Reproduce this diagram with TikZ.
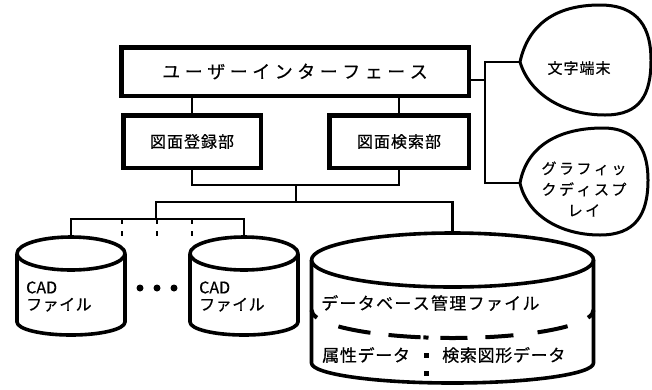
\documentclass[tikz,border=0pt]{standalone}
\usepackage{fontspec}
\setmainfont{Noto Sans CJK JP}[FakeBold=0.5]
\usetikzlibrary{calc}
\makeatletter
\def\spc#1#2{\def\spc@k{#1}\spc@first#2\relax}
\def\spc@first#1{#1\spc@aux}
\def\spc@aux#1{\ifx#1\relax\else\kern\spc@k#1\expandafter\spc@aux\fi}
\makeatother
\tikzset{
  box/.style={draw, line width=4.5pt, inner sep=0pt, outer sep=0pt},
  conn/.style={line width=2.6pt, line cap=rect},
  dashconn/.style={line width=2.6pt, dash pattern=on 5pt off 7pt},
  cyl/.style={line width=3.6pt, line join=round},
  bubble/.style={line width=3pt},
  dbdash/.style={line width=4pt},
  lbl/.style={inner sep=0pt}
}
\begin{document}
\begin{tikzpicture}[x=1pt,y=-1pt]
\useasboundingbox (0,0) rectangle (652,389);

% boxes
\node[box, minimum width=347.5pt, minimum height=48.5pt,
      font=\fontsize{18pt}{21pt}\selectfont] (ui) at (295,71.5) {\spc{4.5pt}{ユーザーインターフェース}};
\node[box, minimum width=137.5pt, minimum height=52.5pt,
      font=\fontsize{16pt}{19pt}\selectfont] (reg) at (192,141.5) {\spc{1pt}{図面登録部}};
\node[box, minimum width=139.5pt, minimum height=52.5pt,
      font=\fontsize{16pt}{19pt}\selectfont] (srch) at (399,141.5) {\spc{1pt}{図面検索部}};

\draw[conn] (ui.south -| reg.north) -- (reg.north);
\draw[conn] (ui.south -| srch.north) -- (srch.north);

% bubbles
\draw[bubble] (520,62) .. controls (528,25) and (555,5) .. (600,5)
  .. controls (640,5) and (651,30) .. (651,60)
  .. controls (651,95) and (640,115) .. (605,115)
  .. controls (565,115) and (530,95) .. (520,62) -- cycle;
\draw[bubble] (520,183) .. controls (527,145) and (560,128) .. (603,128)
  .. controls (640,128) and (648,155) .. (648,180)
  .. controls (648,215) and (635,235) .. (600,235)
  .. controls (560,235) and (527,215) .. (520,183) -- cycle;
\coordinate (termtip) at (520,62);
\coordinate (gfxtip) at (520,183);
\node[lbl, font=\fontsize{15pt}{18pt}\selectfont] (term) at (579,68) {\spc{1pt}{文字端末}};
\node[lbl, align=center, font=\fontsize{15pt}{21pt}\selectfont] (gfx) at (584,189)
  {\spc{2.5pt}{グラフィッ}\\\spc{2.5pt}{クディスプ}\\\spc{2.5pt}{レイ}};

\coordinate (rj) at (485,80);
\draw[conn] (ui.east |- rj) -- (rj);
\draw[conn] (termtip) -| (rj) |- (gfxtip);

% CAD cylinders
\draw[cyl] (17,253.5) -- (17,322) arc[start angle=180, end angle=0, x radius=54, y radius=13] -- (125,253.5);
\draw[cyl] (71,253.5) ellipse [x radius=54, y radius=16.5];
\draw[cyl] (190,253.5) -- (190,322) arc[start angle=180, end angle=0, x radius=54, y radius=13] -- (298,253.5);
\draw[cyl] (244,253.5) ellipse [x radius=54, y radius=16.5];
\coordinate (cad1top) at (71,237);
\coordinate (cad2top) at (244,237);
\node[lbl, anchor=west, align=left, font=\fontsize{16pt}{17pt}\selectfont] (cad1) at (26,296.5)
  {CAD\\\spc{0.5pt}{ファイル}};
\node[lbl, anchor=west, align=left, font=\fontsize{16pt}{17pt}\selectfont] (cad2) at (199,296.5)
  {CAD\\\spc{0.5pt}{ファイル}};
\foreach \x in {140,157,174} \fill (\x,288) circle (3.5);

% DB cylinder
\draw[cyl] (311.5,260) -- (311.5,363) arc[start angle=180, end angle=0, x radius=141, y radius=20] -- (593.5,260);
\draw[cyl] (452.5,260) ellipse [x radius=141, y radius=27];
\coordinate (dbtop) at (452.5,233);
\coordinate (dbc) at (452.5,310);
\foreach \a/\b in {180/164, 144/125.6, 117/103.1, 101.9/99.8, 94.9/83.9, 76.5/64.4, 52.9/35.3, 16/0}
  \draw[dbdash] ($(dbc)+(\a:141 and 28)$) arc[start angle=\a, end angle=\b, x radius=141, y radius=28];
\fill (423.5,352.5) rectangle ++(5,5);
\fill (423.5,370.5) rectangle ++(5,5);
\node[lbl, anchor=west, font=\fontsize{17pt}{20pt}\selectfont] (db) at (321,303) {\spc{1.3pt}{データベース管理ファイル}};
\node[lbl, anchor=west, font=\fontsize{17pt}{20pt}\selectfont] (attr) at (322,355) {\spc{0.7pt}{属性データ}};
\node[lbl, anchor=west, font=\fontsize{17pt}{20pt}\selectfont] (shape) at (442,355) {\spc{0.7pt}{検索図形データ}};

% lower connectors
\coordinate (bus1) at (296,185);
\coordinate (bus2) at (296,202);
\coordinate (bus3) at (156,219);
\draw[conn] (reg.south) |- (bus1) -| (srch.south);
\draw[conn] (bus1) -- (bus2);
\draw[conn] (dbtop) |- (bus3 |- bus2) -- (bus3);
\draw[conn] (cad1top) |- (bus3) -| (cad2top);
\foreach \x [count=\i] in {122,157,192} {
  \coordinate (dt\i) at (\x,219);
  \coordinate (db\i) at (\x,238);
  \draw[dashconn] (dt\i) -- (db\i);
}
\end{tikzpicture}
\end{document}
